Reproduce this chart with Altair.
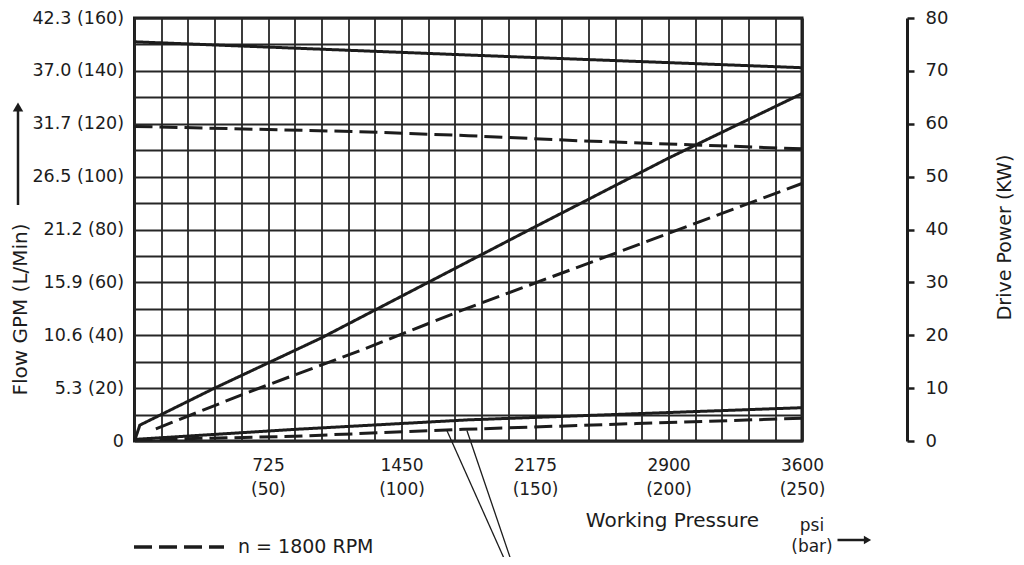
import altair as alt
import pandas as pd

# ---------------- data ----------------
bar_ticks = [50, 100, 150, 200, 250]
psi_ticks = ["725", "1450", "2175", "2900", "3600"]

lpm_ticks = [0, 20, 40, 60, 80, 100, 120, 140, 160]
gpm_ticks = ["0", "5.3", "10.6", "15.9", "21.2", "26.5", "31.7", "37.0", "42.3"]

kw_ticks = [0, 10, 20, 30, 40, 50, 60, 70, 80]

speed_dashed = "n = 1800 RPM"
speed_solid = "n (solid)"

# flow curves (L/min) vs working pressure (bar)
flow_solid_bar = [0, 125, 250]
flow_solid_lpm = [151, 146, 141.2]
flow_dash_bar = [0, 84, 125, 168, 210, 250]
flow_dash_lpm = [119, 117, 115.5, 113.5, 112, 110.5]

# drive power curves (KW) vs working pressure (bar)
power_solid_bar = [0, 2, 30, 70, 110, 150, 200, 250]
power_solid_kw = [0, 3, 10, 19.5, 30, 40.5, 53.5, 65.7]
power_dash_bar = [8, 42, 85, 123, 180, 250]
power_dash_kw = [2.3, 9.1, 17.2, 24.8, 35.5, 48.7]

# lower curves (KW) vs working pressure (bar)
low_solid_bar = [0, 60, 125, 190, 250]
low_solid_kw = [0.3, 2.2, 4.0, 5.2, 6.3]
low_dash_bar = [0, 60, 123, 188, 250]
low_dash_kw = [0.2, 0.9, 2.2, 3.3, 4.3]

# leader lines pointing at the lower curves
leader_bar_start = [117, 124.5]
leader_kw_start = [2.0, 2.0]
leader_bar_end = [140, 142]
leader_kw_end = [-24, -24]

# ---------------- tables ----------------
def curve(name, speed, xs, ys, col):
    return pd.DataFrame({"bar": xs, col: ys, "curve": name, "speed": speed})

flow_df = pd.concat([
    curve("flow_solid", speed_solid, flow_solid_bar, flow_solid_lpm, "lpm"),
    curve("flow_dash", speed_dashed, flow_dash_bar, flow_dash_lpm, "lpm"),
])
power_df = pd.concat([
    curve("power_solid", speed_solid, power_solid_bar, power_solid_kw, "kw"),
    curve("power_dash", speed_dashed, power_dash_bar, power_dash_kw, "kw"),
    curve("low_solid", speed_solid, low_solid_bar, low_solid_kw, "kw"),
    curve("low_dash", speed_dashed, low_dash_bar, low_dash_kw, "kw"),
])
leader_df = pd.DataFrame({"bar": leader_bar_start, "kw": leader_kw_start,
                          "bar2": leader_bar_end, "kw2": leader_kw_end})

# ---------------- label expressions ----------------
xexpr = ""
for b, p in zip(bar_ticks, psi_ticks):
    xexpr += f"datum.value == {b} ? ['{p}', '({b})'] : "
xexpr += "''"

yexpr = ""
for v, g in zip(lpm_ticks, gpm_ticks):
    lab = g if v == 0 else f"{g} ({v})"
    yexpr += f"datum.value == {v} ? '{lab}' : "
yexpr += "''"

INK = "#1c1c1c"
FONT = "DejaVu Sans"

x_axis = alt.Axis(
    values=list(range(0, 251, 10)), grid=True, ticks=False, domain=False,
    labelExpr=xexpr, labelOverlap=False, labelFlush=False,
    labelFontSize=17, labelPadding=16, labelLineHeight=24,
    title="Working Pressure", titleX=537.5, titleY=79,
    titleAlign="center", titleBaseline="middle",
    titleFontSize=20, titleFontWeight="normal",
)
x_scale = alt.Scale(domain=[0, 250], nice=False, zero=False)


def x_enc():
    return alt.X("bar:Q", scale=x_scale, axis=x_axis)


dash_scale = alt.Scale(domain=[speed_dashed, speed_solid], range=[[18, 7], [1, 0]])

flow_layer = alt.Chart(flow_df).mark_line(color=INK, strokeWidth=3).encode(
    x=x_enc(),
    y=alt.Y(
        "lpm:Q",
        scale=alt.Scale(domain=[0, 160], nice=False),
        axis=alt.Axis(
            values=list(range(0, 161, 10)), grid=True, ticks=False, domain=False,
            labelExpr=yexpr, labelOverlap=False, labelFlush=False,
            labelFontSize=17.5, labelPadding=11,
            title="Flow GPM (L/Min)", titleX=-114.5, titleY=291, titleAngle=270,
            titleAlign="center", titleBaseline="middle",
            titleFontSize=20, titleFontWeight="normal",
        ),
    ),
    strokeDash=alt.StrokeDash(
        "speed:N", scale=dash_scale,
        legend=alt.Legend(
            values=[speed_dashed], orient="none", legendX=-2.5, legendY=482,
            title=None, symbolType="stroke", symbolSize=8100,
            symbolStrokeWidth=3.5, symbolStrokeColor=INK, padding=0,
            labelFontSize=19, labelOffset=12, labelColor=INK,
        ),
    ),
    detail="curve:N",
)

kw_y = alt.Y(
    "kw:Q",
    scale=alt.Scale(domain=[0, 80], nice=False),
    axis=alt.Axis(
        orient="right", offset=105, values=kw_ticks, grid=False,
        ticks=True, tickSize=7, tickWidth=2.5, tickColor=INK,
        domain=True, domainWidth=3, domainColor=INK,
        labelFontSize=18, labelPadding=11, labelFlush=False,
        title="Drive Power (KW)", titleX=97, titleY=219, titleAngle=270,
        titleAlign="center", titleBaseline="middle",
        titleFontSize=19, titleFontWeight="normal",
    ),
)

power_layer = alt.Chart(power_df).mark_line(color=INK, strokeWidth=3).encode(
    x=x_enc(),
    y=kw_y,
    strokeDash=alt.StrokeDash("speed:N", scale=dash_scale),
    detail="curve:N",
)

leader_layer = alt.Chart(leader_df).mark_rule(color=INK, strokeWidth=1.3, clip=False).encode(
    x=x_enc(), y=alt.Y("kw:Q"), x2="bar2:Q", y2="kw2:Q",
)

power_group = alt.layer(power_layer, leader_layer)

# annotation arrows / units text
one = pd.DataFrame({"k": [0]})
ann = alt.Chart(one)
left_shaft = ann.mark_rule(color=INK, strokeWidth=2.5, clip=False).encode(
    x=alt.value(-116.5), y=alt.value(187), y2=alt.value(92))
left_head = ann.mark_point(shape="triangle-up", filled=True, color=INK, size=110,
                           opacity=1, clip=False).encode(
    x=alt.value(-116.5), y=alt.value(89))
unit_shaft = ann.mark_rule(color=INK, strokeWidth=2.5, clip=False).encode(
    x=alt.value(703), x2=alt.value(730), y=alt.value(522))
unit_head = ann.mark_point(shape="triangle-right", filled=True, color=INK, size=70,
                           opacity=1, clip=False).encode(
    x=alt.value(733), y=alt.value(522))
psi_text = ann.mark_text(text="psi", fontSize=17, font=FONT, color=INK,
                         align="center", baseline="middle").encode(
    x=alt.value(677.5), y=alt.value(508))
bar_text = ann.mark_text(text="(bar)", fontSize=17, font=FONT, color=INK,
                         align="center", baseline="middle").encode(
    x=alt.value(677.5), y=alt.value(529))

chart = alt.layer(
    flow_layer, power_group,
    left_shaft, left_head, unit_shaft, unit_head, psi_text, bar_text,
).resolve_scale(y="independent").properties(
    width=667.5, height=423,
    autosize=alt.AutoSizeParams(type="none"),
    padding={"left": 126.5, "top": 10, "right": 214, "bottom": 116},
    background="white",
).configure_view(
    stroke=INK, strokeWidth=3,
).configure_axis(
    gridColor="#262626", gridWidth=1.8, gridOpacity=1,
    labelColor=INK, titleColor=INK, labelFont=FONT, titleFont=FONT,
    labelOverlap=False,
).configure_legend(
    labelFont=FONT,
).configure_text(font=FONT)

chart.save("out.html", embed_options={"renderer": "svg", "actions": False})
